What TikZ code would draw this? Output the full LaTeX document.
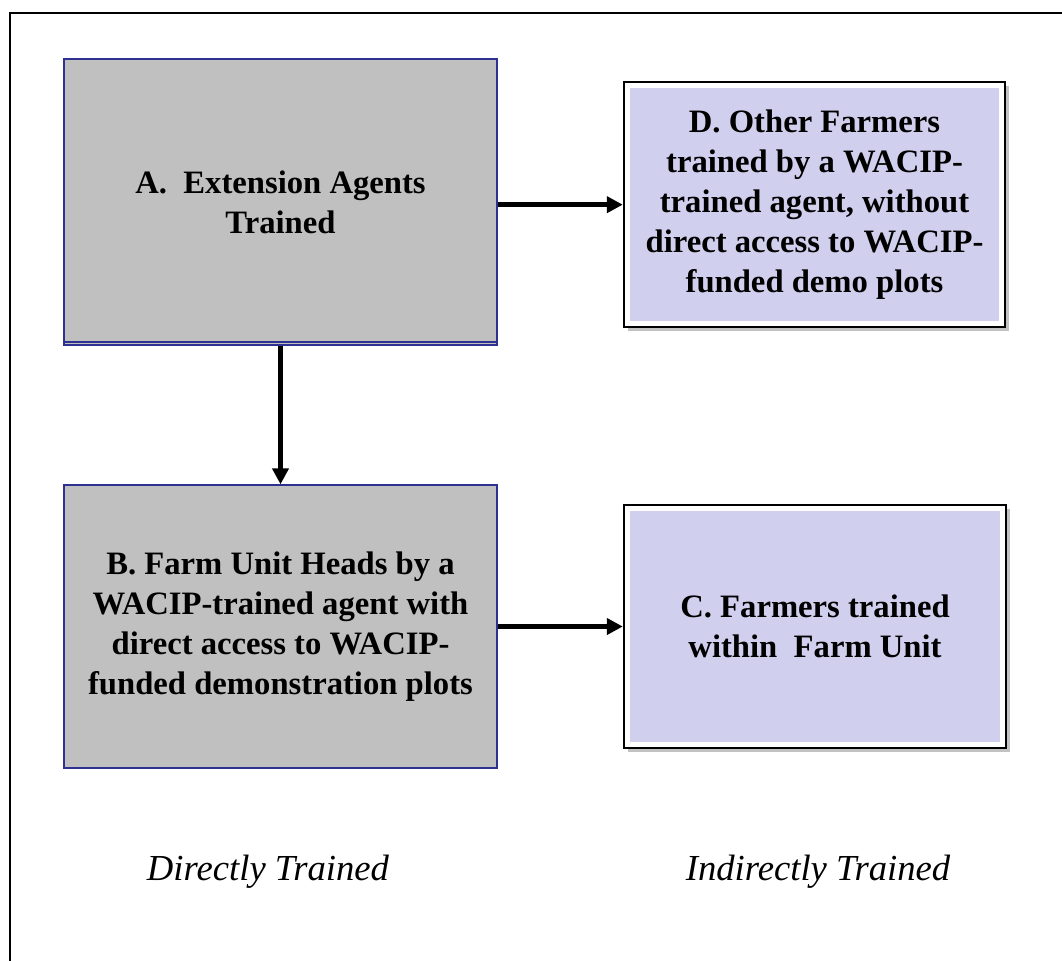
\documentclass[tikz,border=0pt]{standalone}
\usepackage{fontspec}
\setmainfont{Liberation Serif}
\usetikzlibrary{arrows.meta,shadows}

\definecolor{Frame}{HTML}{2E3192}
\definecolor{Direct}{HTML}{C0C0C0}
\definecolor{Indirect}{HTML}{D0D0EE}

\tikzset{
  directbox/.style={draw=Frame, fill=Direct, line width=1.5pt, align=center,
    font=\bfseries\fontsize{24.5}{30}\selectfont, inner sep=0pt},
  indirectbox/.style={draw=black, fill=white, line width=1.8pt, align=center,
    font=\bfseries\fontsize{24.5}{30}\selectfont, inner sep=0pt,
    drop shadow={shadow xshift=3pt, shadow yshift=-3pt, opacity=0.4, fill=black!60},
    path picture={\fill[Indirect]
      ([shift={(4.5pt,-4.5pt)}]path picture bounding box.north west) rectangle
      ([shift={(-4.5pt,4.5pt)}]path picture bounding box.south east);}},
  flow/.style={line width=3.4pt, -{Triangle[length=12pt,width=12pt]}},
  column/.style={font=\itshape\fontsize{27.5}{32}\selectfont}
}

\begin{document}
\begin{tikzpicture}[x=0.75pt, y=-0.75pt]

\useasboundingbox (0,0) rectangle (1062,960);

%%%%%%%%%% Outer frame %%%%%%%%%%
 \draw [line width=1.5pt] (10,962) -- (10,13) -- (1064,13) ;

%%%%%%%%%% Points pour les boites %%%%%%%%%%
 \coordinate (pA) at (280.5,202) ;
 \coordinate (pB) at (280.5,626.5) ;
 \coordinate (pD) at (814.5,204.5) ;
 \coordinate (pC) at (815,626.5) ;

%%%%%%%%%% Directly trained %%%%%%%%%%
 \node [directbox, minimum width=324.75pt, minimum height=214.5pt] (A) at (pA)
   {A.\ \ Extension Agents\\ Trained} ;
 \draw [draw=Frame, line width=1pt] ([yshift=3pt]A.south west) -- ([yshift=3pt]A.south east) ;
 \node [directbox, line width=1pt, minimum width=324.75pt, minimum height=212.25pt] (B) at (pB)
   {B. Farm Unit Heads by a\\ WACIP-trained agent with\\ direct access to WACIP-\\ funded demonstration plots} ;

%%%%%%%%%% Indirectly trained %%%%%%%%%%
 \node [indirectbox, minimum width=285.75pt, minimum height=183.75pt] (D) at (pD)
   {D. Other Farmers\\ trained by a WACIP-\\ trained agent, without\\ direct access to WACIP-\\ funded demo plots} ;
 \node [indirectbox, minimum width=286.5pt, minimum height=182.25pt] (C) at (pC)
   {C. Farmers trained\\ within\ \ Farm Unit} ;

%%%%%%%%%% Arrows %%%%%%%%%%
 \draw [flow] ([yshift=-2pt]A.east) -- ([yshift=-2pt]A.east -| D.west) ;
 \draw [flow] (A.south) -- (B.north) ;
 \draw [flow] (B.east) -- (B.east -| C.west) ;

%%%%%%%%%% Column labels %%%%%%%%%%
 \node [column] (direct) at (268,872) {Directly Trained} ;
 \node [column] (indirect) at (818,872) {Indirectly Trained} ;

\end{tikzpicture}
\end{document}
